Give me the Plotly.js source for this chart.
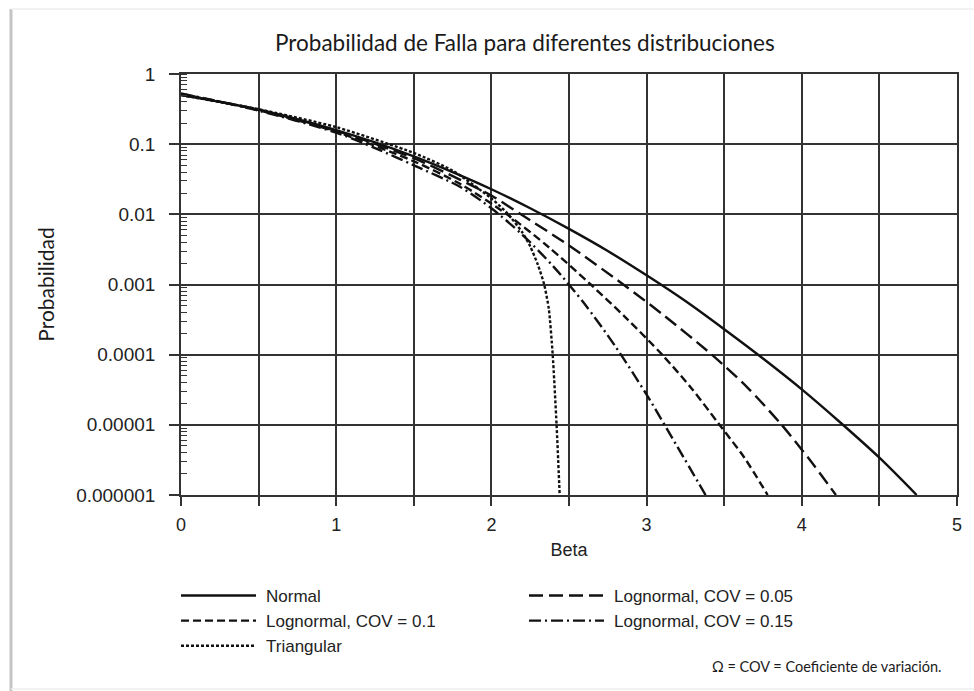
<!DOCTYPE html>
<html>
<head>
<meta charset="utf-8">
<script src="https://cdn.plot.ly/plotly-3.0.1.min.js"></script>
<style>
html,body{margin:0;padding:0;background:#ffffff;}
#chart{width:974px;height:691px;}
</style>
</head>
<body>
<div id="chart"></div>
<script>
// ---- data ----
const seriesNames = ["Normal", "Lognormal, COV = 0.05", "Lognormal, COV = 0.1", "Lognormal, COV = 0.15", "Triangular"];

const normalBeta = [0, 0.25, 0.5, 0.75, 1, 1.25, 1.5, 1.75, 2, 2.25, 2.5, 2.75, 3, 3.25, 3.5, 3.75, 4, 4.25, 4.5, 4.74];
const normalProb = [0.5, 0.40, 0.31, 0.227, 0.159, 0.106, 0.067, 0.040, 0.0228, 0.0122, 0.0062, 0.003, 0.00135, 0.00058, 0.00023, 0.000088, 0.000032, 0.0000107, 0.0000034, 0.000001];

const ln05Beta = [0, 0.5, 1, 1.5, 1.8, 2.0, 2.19, 2.5, 2.85, 3.1, 3.42, 3.65, 3.87, 4.05, 4.22];
const ln05Prob = [0.51, 0.31, 0.155, 0.063, 0.031, 0.0185, 0.01, 0.0036, 0.001, 0.00038, 0.0001, 0.000034, 0.00001, 0.0000032, 0.000001];

const ln10Beta = [0, 0.5, 1, 1.5, 1.8, 2.1, 2.37, 2.64, 2.87, 3.1, 3.29, 3.47, 3.63, 3.78];
const ln10Prob = [0.52, 0.305, 0.15, 0.057, 0.027, 0.01, 0.0034, 0.001, 0.00033, 0.0001, 0.000033, 0.00001, 0.0000034, 0.000001];

const ln15Beta = [0, 0.5, 1, 1.25, 1.5, 1.8, 2.0, 2.2, 2.4, 2.6, 2.8, 3.0, 3.2, 3.38];
const ln15Prob = [0.53, 0.30, 0.146, 0.088, 0.05, 0.0245, 0.0122, 0.0051, 0.0018, 0.00053, 0.00013, 0.000027, 0.0000048, 0.000001];

const triBeta = [0, 0.5, 1, 1.5, 1.75, 2, 2.1, 2.2, 2.25, 2.3, 2.34, 2.37, 2.395, 2.42, 2.44];
const triProb = [0.5, 0.315, 0.175, 0.075, 0.042, 0.0168, 0.0105, 0.0055, 0.0035, 0.0019, 0.001, 0.00045, 0.0001, 0.00001, 0.000001];

const yTickVals = [1, 0.1, 0.01, 0.001, 0.0001, 0.00001, 0.000001];
const yTickText = ["1", "0.1", "0.01", "0.001", "0.0001", "0.00001", "0.000001"];
const xTickVals = [0, 1, 2, 3, 4, 5];
const xTickText = ["0", "1", "2", "3", "4", "5"];

// ---- layout geometry ----
const W = 974, H = 691;
const M = {l: 181, r: 17, t: 74, b: 196};
const PW = W - M.l - M.r, PH = H - M.t - M.b;
const px = v => (v - M.l) / PW;
const py = v => (H - M.b - v) / PH;

const ink = "#111111";
const gridC = "#333333";
const labelFont = "Liberation Sans, Arial, sans-serif";
const titleFont = "Lato, 'Open Sans', sans-serif";

function mk(x, y, name, dash, smooth) {
  return {
    x: x, y: y, name: name, type: "scatter", mode: "lines",
    line: {color: ink, width: 2.4, dash: dash, shape: "spline", smoothing: smooth},
    hoverinfo: "x+y+name"
  };
}

const traces = [
  mk(normalBeta, normalProb, seriesNames[0], "solid", 0.8),
  mk(ln05Beta, ln05Prob, seriesNames[1], "14px,6px", 0.8),
  mk(ln10Beta, ln10Prob, seriesNames[2], "8px,4px", 0.8),
  mk(ln15Beta, ln15Prob, seriesNames[3], "12px,4px,2px,4px", 0.8),
  mk(triBeta, triProb, seriesNames[4], "3px,2px", 0.6)
];

const layout = {
  width: W, height: H,
  margin: M,
  paper_bgcolor: "#ffffff",
  plot_bgcolor: "#ffffff",
  showlegend: true,
  title: {
    text: "Probabilidad de Falla para diferentes distribuciones",
    font: {family: titleFont, size: 22.5, color: "#1a1a1a"},
    x: 275 / W, xref: "container", xanchor: "left",
    y: 1 - 43 / H, yref: "container", yanchor: "middle"
  },
  xaxis: {
    range: [0, 5],
    tickvals: xTickVals, ticktext: xTickText,
    ticks: "outside", ticklen: 9, tickwidth: 1.5, tickcolor: gridC,
    ticklabelstandoff: 4,
    showgrid: true, gridcolor: gridC, gridwidth: 1.6,
    minor: {dtick: 0.5, tick0: 0, ticks: "outside", ticklen: 9, tickwidth: 1.5, tickcolor: gridC,
            showgrid: true, gridcolor: gridC, gridwidth: 1.6},
    showline: true, linecolor: gridC, linewidth: 1.6, mirror: true,
    zeroline: false,
    tickfont: {family: labelFont, size: 18, color: "#222222"},
    title: {text: "Beta", font: {family: labelFont, size: 18, color: "#222222"}, standoff: 9},
    fixedrange: true
  },
  yaxis: {
    type: "log",
    range: [-6, 0],
    tickvals: yTickVals, ticktext: yTickText,
    ticks: "outside", ticklen: 10, tickwidth: 1.5, tickcolor: gridC,
    ticklabelstandoff: 10,
    showgrid: true, gridcolor: gridC, gridwidth: 1.6,
    minor: {dtick: "D1", ticks: "inside", ticklen: 6, tickwidth: 1.1, tickcolor: gridC, showgrid: false},
    showline: true, linecolor: gridC, linewidth: 1.6, mirror: true,
    zeroline: false,
    tickfont: {family: labelFont, size: 19, color: "#222222"},
    title: {text: "Probabilidad", font: {family: titleFont, size: 21, color: "#1a1a1a"}, standoff: 16},
    fixedrange: true
  },
  legend: {
    orientation: "h",
    x: px(176), xanchor: "left",
    y: py(578), yanchor: "top",
    itemwidth: 80,
    entrywidth: 253, entrywidthmode: "pixels",
    font: {family: labelFont, size: 17, color: "#222222"},
    bgcolor: "rgba(0,0,0,0)",
    traceorder: "normal",
    itemclick: false, itemdoubleclick: false
  },
  annotations: [{
    text: "\u03A9 = COV = Coeficiente de variaci\u00f3n.",
    xref: "paper", yref: "paper",
    x: px(710), y: py(666), xanchor: "left", yanchor: "middle",
    showarrow: false,
    font: {family: titleFont, size: 14.5, color: "#1a1a1a"}
  }],
  shapes: [
    {type: "line", xref: "paper", yref: "paper", x0: px(11), x1: px(11), y0: py(9), y1: py(691),
     line: {color: "#c4c4c4", width: 3}, layer: "below"},
    {type: "line", xref: "paper", yref: "paper", x0: px(11), x1: px(974), y0: py(9), y1: py(9),
     line: {color: "#eeeeee", width: 1.5}, layer: "below"},
    {type: "line", xref: "paper", yref: "paper", x0: px(11), x1: px(974), y0: py(689), y1: py(689),
     line: {color: "#eeeeee", width: 1.5}, layer: "below"}
  ]
};

Plotly.newPlot("chart", traces, layout, {displayModeBar: false}).then(function (gd) {
  // lengthen the legend line samples to match the reference key
  gd.querySelectorAll(".legend .legendlines path").forEach(function (p) {
    p.setAttribute("d", "M5,0h75");
  });
});
</script>
</body>
</html>
